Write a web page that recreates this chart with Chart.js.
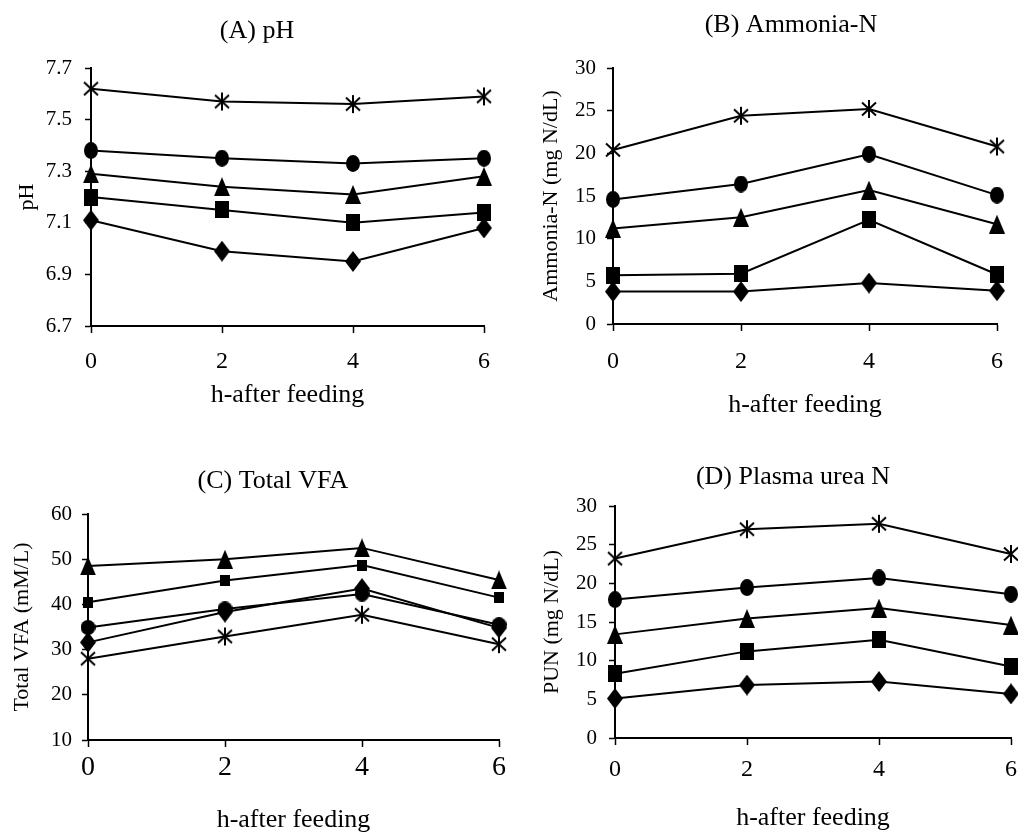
<!DOCTYPE html>
<html>
<head>
<meta charset="utf-8">
<script src="https://cdn.jsdelivr.net/npm/chart.js@4/dist/chart.umd.min.js"></script>
<style>
  html, body { margin: 0; padding: 0; background: #fff; overflow: hidden; }
  #wrap { position: relative; width: 1018px; height: 832px; overflow: hidden; background: #fff; }
  #wrap canvas { position: absolute; }
</style>
</head>
<body>
<div id="wrap"></div>
<script>
// hours after feeding (x axis)
const hours = [0, 2, 4, 6];

// (A) pH
const phStar     = [7.62, 7.57, 7.56, 7.59];
const phCircle   = [7.38, 7.35, 7.33, 7.35];
const phTriangle = [7.29, 7.24, 7.21, 7.28];
const phSquare   = [7.20, 7.15, 7.10, 7.14];
const phDiamond  = [7.11, 6.99, 6.95, 7.08];
const phTicks    = [6.7, 6.9, 7.1, 7.3, 7.5, 7.7];

// (B) Ammonia-N, mg N/dL
const nhStar     = [20.4, 24.4, 25.2, 20.8];
const nhCircle   = [14.6, 16.4, 19.9, 15.1];
const nhTriangle = [11.2, 12.5, 15.7, 11.7];
const nhSquare   = [5.7, 5.9, 12.2, 5.8];
const nhDiamond  = [3.8, 3.8, 4.8, 3.9];
const nhTicks    = [0, 5, 10, 15, 20, 25, 30];

// (C) Total VFA, mM/L
const vfaTriangle = [48.5, 50.0, 52.5, 45.4];
const vfaSquare   = [40.5, 45.3, 48.7, 41.5];
const vfaCircle   = [34.9, 39.0, 42.3, 35.5];
const vfaDiamond  = [31.6, 38.3, 43.5, 34.8];
const vfaStar     = [28.0, 32.9, 37.7, 31.2];
const vfaTicks    = [10, 20, 30, 40, 50, 60];

// (D) Plasma urea N, mg N/dL
const punStar     = [23.2, 27.0, 27.7, 23.8];
const punCircle   = [17.9, 19.45, 20.7, 18.6];
const punTriangle = [13.4, 15.45, 16.8, 14.6];
const punSquare   = [8.3, 11.2, 12.7, 9.25];
const punDiamond  = [5.1, 6.85, 7.3, 5.7];
const punTicks    = [0, 5, 10, 15, 20, 25, 30];

const FONT = "'Liberation Serif', 'Times New Roman', serif";

// small canvases used as point styles
function marker(shape, w, h) {
  const c = document.createElement('canvas');
  c.width = w; c.height = h;
  const g = c.getContext('2d');
  g.fillStyle = '#000';
  g.strokeStyle = '#000';
  g.lineWidth = 2;
  g.beginPath();
  if (shape === 'circle') {
    g.ellipse(w / 2, h / 2, w / 2, h / 2, 0, 0, Math.PI * 2);
    g.fill();
  } else if (shape === 'square') {
    g.fillRect(0, 0, w, h);
  } else if (shape === 'triangle') {
    g.moveTo(w / 2, 0); g.lineTo(w, h); g.lineTo(0, h); g.closePath();
    g.fill();
  } else if (shape === 'diamond') {
    g.moveTo(w / 2, 0); g.lineTo(w, h / 2); g.lineTo(w / 2, h); g.lineTo(0, h / 2); g.closePath();
    g.fill();
  } else if (shape === 'star') {
    g.moveTo(w / 2, 1); g.lineTo(w / 2, h - 1);
    g.moveTo(1, h * 0.18); g.lineTo(w - 1, h * 0.82);
    g.moveTo(w - 1, h * 0.18); g.lineTo(1, h * 0.82);
    g.stroke();
  }
  return c;
}

const mk = {
  star: marker('star', 16, 20),
  circle: marker('circle', 14, 17),
  triangle: marker('triangle', 16, 19),
  square: marker('square', 14, 17),
  diamond: marker('diamond', 16, 21),
  smallSquare: marker('square', 10, 11),
  roundCircle: marker('circle', 15, 15)
};

function series(values, style) {
  return {
    data: values.map((v, i) => ({ x: hours[i], y: v })),
    borderColor: '#000',
    backgroundColor: '#000',
    borderWidth: 2,
    pointStyle: style,
    pointRadius: 8,
    pointHoverRadius: 8,
    clip: false,
    tension: 0
  };
}

function panel(p) {
  const lhT = p.titleSize * 1.2, lhY = p.yTitleSize * 1.2, lhX = p.xTitleSize * 1.2, lhTick = p.xTickSize * 1.2;
  const L = Math.round(p.yLabelX - lhY / 2 - 4);
  const W = Math.round(2 * (p.titleX - L));
  const T = p.top;
  const H = Math.round(p.xLabelY + lhX / 2 + 2 - T);
  const a = p.area;

  const cv = document.createElement('canvas');
  cv.width = W; cv.height = H;
  cv.style.left = L + 'px'; cv.style.top = T + 'px';
  cv.style.width = W + 'px'; cv.style.height = H + 'px';
  document.getElementById('wrap').appendChild(cv);

  new Chart(cv.getContext('2d'), {
    type: 'line',
    data: { datasets: p.datasets },
    options: {
      responsive: false,
      animation: false,
      events: [],
      layout: { padding: 0 },
      plugins: {
        legend: { display: false },
        tooltip: { enabled: false },
        title: {
          display: true,
          text: p.title,
          color: '#000',
          font: { family: FONT, size: p.titleSize, weight: 'normal' },
          padding: { top: p.titleY - T - lhT / 2, bottom: a.t - p.titleY - lhT / 2 }
        }
      },
      scales: {
        x: {
          type: 'linear',
          min: 0, max: 6,
          afterBuildTicks: s => { s.ticks = hours.map(v => ({ value: v })); },
          ticks: {
            color: '#000',
            font: { family: FONT, size: p.xTickSize },
            padding: p.xTickY - a.b - 7 - lhTick / 2,
            maxRotation: 0
          },
          grid: { drawOnChartArea: false, drawTicks: true, tickLength: 7, tickColor: '#000', tickWidth: 1.5 },
          border: { display: true, color: '#000', width: 2 },
          title: {
            display: true, text: 'h-after feeding', color: '#000',
            font: { family: FONT, size: p.xTitleSize },
            padding: { top: 0, bottom: 2 }
          },
          afterFit: s => {
            s.height = T + H - a.b;
            s.paddingLeft = 0;
            s.paddingRight = L + W - a.r;
          }
        },
        y: {
          type: 'linear',
          min: p.yTicks[0], max: p.yTicks[p.yTicks.length - 1],
          afterBuildTicks: s => { s.ticks = p.yTicks.map(v => ({ value: v })); },
          ticks: {
            color: '#000',
            font: { family: FONT, size: p.yTickSize },
            padding: a.l - p.yTickRight - 6,
            callback: v => p.yFmt(v)
          },
          grid: { drawOnChartArea: false, drawTicks: true, tickLength: 6, tickColor: '#000', tickWidth: 1.5 },
          border: { display: true, color: '#000', width: 2 },
          title: {
            display: true, text: p.yTitle, color: '#000',
            font: { family: FONT, size: p.yTitleSize },
            padding: { top: 4, bottom: 0 }
          },
          afterFit: s => {
            s.width = a.l - L;
            s.paddingTop = 0;
            s.paddingBottom = 0;
          }
        }
      }
    }
  });
}

const common = { titleSize: 26, yTitleSize: 22, xTitleSize: 26, yTickSize: 21, xTickSize: 24 };

panel(Object.assign({}, common, {
  title: '(A) pH', titleX: 257, titleY: 31, top: 0,
  area: { l: 91, r: 484, t: 68, b: 326 },
  yLabelX: 27, xLabelY: 395, xTickY: 362, yTickRight: 72,
  yTitle: 'pH', yTicks: phTicks, yFmt: v => v.toFixed(1),
  datasets: [
    series(phStar, mk.star), series(phCircle, mk.circle), series(phTriangle, mk.triangle),
    series(phSquare, mk.square), series(phDiamond, mk.diamond)
  ]
}));

panel(Object.assign({}, common, {
  title: '(B) Ammonia-N', titleX: 791, titleY: 25, top: 0,
  area: { l: 613, r: 997, t: 68, b: 324 },
  yLabelX: 551, xLabelY: 405, xTickY: 362, yTickRight: 596,
  yTitle: 'Ammonia-N (mg N/dL)', yTicks: nhTicks, yFmt: v => String(v),
  datasets: [
    series(nhStar, mk.star), series(nhCircle, mk.circle), series(nhTriangle, mk.triangle),
    series(nhSquare, mk.square), series(nhDiamond, mk.diamond)
  ]
}));

panel(Object.assign({}, common, {
  xTickSize: 28,
  title: '(C) Total VFA', titleX: 273, titleY: 481, top: 420,
  area: { l: 88, r: 499, t: 514, b: 740 },
  yLabelX: 22, xLabelY: 820, xTickY: 768, yTickRight: 72,
  yTitle: 'Total VFA (mM/L)', yTicks: vfaTicks, yFmt: v => String(v),
  datasets: [
    series(vfaTriangle, mk.triangle), series(vfaSquare, mk.smallSquare), series(vfaCircle, mk.roundCircle),
    series(vfaDiamond, mk.diamond), series(vfaStar, mk.star)
  ]
}));

panel(Object.assign({}, common, {
  title: '(D) Plasma urea N', titleX: 793, titleY: 477, top: 420,
  area: { l: 615, r: 1011, t: 506, b: 738 },
  yLabelX: 552, xLabelY: 818, xTickY: 770, yTickRight: 597,
  yTitle: 'PUN (mg N/dL)', yTicks: punTicks, yFmt: v => String(v),
  datasets: [
    series(punStar, mk.star), series(punCircle, mk.circle), series(punTriangle, mk.triangle),
    series(punSquare, mk.square), series(punDiamond, mk.diamond)
  ]
}));
</script>
</body>
</html>
